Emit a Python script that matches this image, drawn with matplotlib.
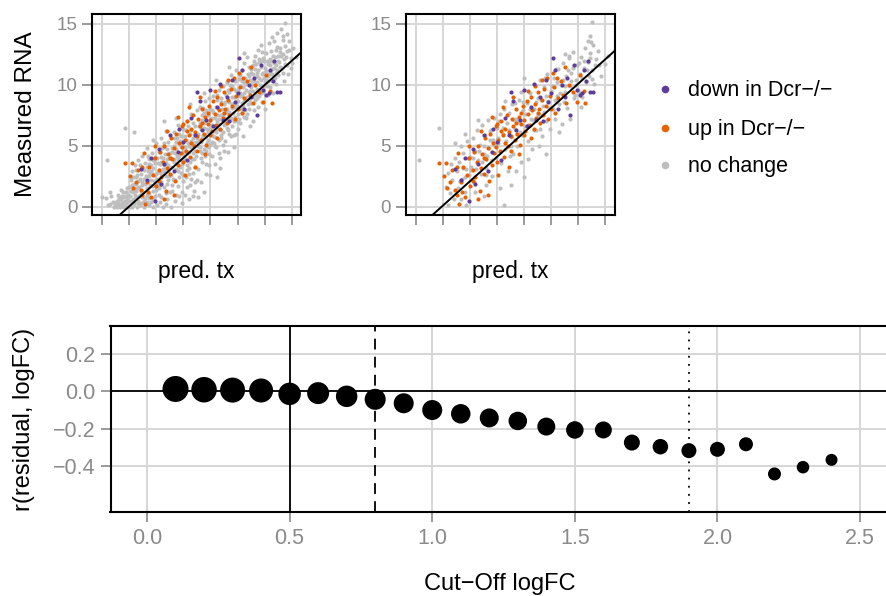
import numpy as np
import matplotlib
matplotlib.use('Agg')
import matplotlib.pyplot as plt
from matplotlib.lines import Line2D

plt.rcParams['font.family'] = ['Liberation Sans', 'DejaVu Sans']

# ---- top panels: measured RNA vs predicted transcription
# genes with no change, panel 1 (all genes)
gray_1 = [
    (0.0, 0.8), (0.6, 1.2), (0.3, 0.7), (0.4, 3.8), (0.6, 0.2), (0.8, 0.4), (0.9, 0.0), (0.7, 0.9), (1.0, 0.1), (0.5, 0.1),
    (1.1, 0.0), (1.2, 0.3), (1.3, 0.6), (1.4, 0.1), (1.5, 0.9), (1.6, 0.2), (1.7, 0.5), (1.8, 1.2), (1.9, 0.0), (1.2, 1.0),
    (1.5, 0.4), (1.7, 0.0), (1.9, 0.7), (1.1, 0.5), (1.4, 1.4), (1.6, 0.8), (1.8, 0.3), (2.0, 1.6), (1.7, 6.5), (1.3, 0.2),
    (2.1, 0.0), (2.1, 0.9), (2.2, 1.8), (2.2, 0.4), (2.3, 2.4), (2.3, 1.2), (2.4, 0.2), (2.4, 6.1), (2.5, 0.8), (2.5, 3.0),
    (2.6, 1.5), (2.6, 0.0), (2.7, 2.1), (2.7, 0.5), (2.8, 3.4), (2.8, 1.0), (2.9, 2.7), (2.9, 0.3), (3.0, 1.8), (3.0, 4.2),
    (2.2, 2.9), (2.4, 1.5), (2.6, 2.6), (2.8, 0.1), (2.5, 1.9), (2.9, 1.3), (2.3, 0.6), (2.7, 3.8),
    (3.1, 0.0), (3.1, 2.3), (3.2, 0.7), (3.2, 3.6), (3.3, 1.5), (3.3, 4.8), (3.4, 0.2), (3.4, 2.9), (3.5, 1.1), (3.5, 3.9),
    (3.6, 0.4), (3.6, 2.2), (3.7, 4.4), (3.7, 1.7), (3.8, 0.0), (3.8, 3.2), (3.9, 2.6), (3.9, 0.9), (4.0, 5.2), (4.0, 1.4),
    (3.2, 1.9), (3.4, 4.2), (3.5, 0.1), (3.6, 3.4), (3.7, 2.7), (3.8, 1.3), (3.9, 4.1), (3.3, 0.4), (3.5, 2.5), (3.8, 5.5),
    (4.1, 0.1), (4.1, 2.8), (4.2, 4.5), (4.2, 1.0), (4.3, 3.5), (4.3, 0.4), (4.4, 5.6), (4.4, 2.0), (4.5, 0.0), (4.5, 3.1),
    (4.6, 4.9), (4.6, 1.6), (4.7, 2.5), (4.7, 6.2), (4.8, 0.6), (4.8, 3.9), (4.9, 5.3), (4.9, 2.2), (5.0, 1.2), (5.0, 4.4),
    (4.2, 3.0), (4.4, 0.8), (4.5, 4.0), (4.6, 2.9), (4.7, 0.2), (4.8, 1.9), (4.9, 3.4), (4.3, 1.8), (4.6, 7.0), (4.1, 4.0),
    (4.8, 4.7), (4.4, 3.7),
    (5.1, 0.0), (5.1, 2.6), (5.2, 4.8), (5.2, 1.3), (5.3, 3.7), (5.3, 6.1), (5.4, 0.5), (5.4, 2.2), (5.5, 5.3), (5.5, 3.1),
    (5.6, 1.7), (5.6, 6.7), (5.7, 4.2), (5.7, 0.9), (5.8, 2.8), (5.8, 5.8), (5.9, 3.5), (5.9, 1.2), (6.0, 6.4), (6.0, 4.6),
    (5.2, 3.3), (5.4, 4.4), (5.5, 1.0), (5.6, 3.9), (5.7, 2.4), (5.8, 4.9), (5.9, 0.3), (6.0, 2.1), (5.3, 5.6), (5.5, 7.3),
    (5.1, 4.0), (5.7, 6.0), (5.9, 5.2), (5.4, 3.0),
    (6.1, 1.0), (6.1, 3.8), (6.2, 5.5), (6.2, 2.4), (6.3, 7.0), (6.3, 4.4), (6.4, 0.6), (6.4, 3.2), (6.5, 6.0), (6.5, 1.8),
    (6.6, 4.9), (6.6, 7.6), (6.7, 2.8), (6.7, 5.6), (6.8, 3.9), (6.8, 1.3), (6.9, 6.6), (6.9, 4.6), (7.0, 2.2), (7.0, 7.9),
    (6.2, 6.3), (6.3, 3.0), (6.4, 5.0), (6.5, 3.7), (6.6, 2.3), (6.7, 6.9), (6.8, 5.2), (6.9, 3.3), (7.0, 5.6), (6.1, 4.9),
    (6.5, 8.4), (6.7, 0.9), (6.3, 1.6), (6.9, 2.0),
    (7.1, 3.1), (7.1, 6.0), (7.2, 4.6), (7.2, 8.2), (7.3, 2.0), (7.3, 5.3), (7.4, 7.1), (7.4, 3.7), (7.5, 6.5), (7.5, 1.2),
    (7.6, 4.2), (7.6, 8.7), (7.7, 5.8), (7.7, 2.7), (7.8, 7.5), (7.8, 4.9), (7.9, 3.4), (7.9, 6.2), (8.0, 8.0), (8.0, 5.1),
    (7.2, 6.9), (7.3, 4.0), (7.4, 5.6), (7.5, 4.7), (7.6, 7.0), (7.7, 3.5), (7.8, 6.1), (7.9, 8.9), (8.0, 2.6), (7.1, 0.8),
    (7.5, 9.3), (7.7, 7.9), (7.3, 6.4), (7.9, 4.3),
    (8.1, 4.2), (8.1, 7.3), (8.2, 5.8), (8.2, 9.1), (8.3, 3.5), (8.3, 6.6), (8.4, 8.2), (8.4, 4.9), (8.5, 7.0), (8.5, 2.4),
    (8.6, 5.5), (8.6, 9.6), (8.7, 6.3), (8.7, 4.0), (8.8, 8.6), (8.8, 7.5), (8.9, 5.1), (8.9, 9.9), (9.0, 6.7), (9.0, 4.6),
    (8.2, 7.8), (8.3, 5.0), (8.4, 6.1), (8.5, 8.8), (8.6, 7.2), (8.7, 3.2), (8.8, 5.9), (8.9, 7.0), (9.0, 8.4), (8.4, 10.4),
    (8.1, 5.3), (8.6, 4.4),
    (9.1, 5.4), (9.1, 8.6), (9.2, 7.1), (9.2, 10.2), (9.3, 4.5), (9.3, 6.3), (9.4, 9.4), (9.4, 7.8), (9.5, 5.8), (9.5, 10.8),
    (9.6, 8.1), (9.6, 6.6), (9.7, 9.0), (9.7, 4.9), (9.8, 7.4), (9.8, 10.3), (9.9, 8.7), (9.9, 6.0), (10.0, 9.6), (10.0, 7.6),
    (9.2, 8.0), (9.3, 9.6), (9.4, 6.0), (9.5, 7.3), (9.6, 9.9), (9.7, 7.0), (9.8, 8.5), (9.9, 11.2), (10.0, 6.4), (9.4, 11.5),
    (9.1, 6.8), (9.7, 5.9),
    (10.1, 8.2), (10.1, 10.5), (10.2, 6.9), (10.2, 9.3), (10.3, 11.2), (10.3, 7.7), (10.4, 9.8), (10.4, 5.8), (10.5, 8.7),
    (10.5, 11.8), (10.6, 7.3), (10.6, 10.1), (10.7, 9.0), (10.7, 12.3), (10.8, 8.0), (10.8, 10.7), (10.9, 6.6), (10.9, 9.5),
    (11.0, 11.3), (11.0, 8.5), (10.2, 10.8), (10.3, 9.1), (10.4, 8.3), (10.5, 10.2), (10.6, 8.9), (10.7, 7.6), (10.8, 11.5),
    (10.9, 10.4), (11.0, 9.8), (10.5, 12.6), (10.1, 7.2), (10.8, 9.4),
    (11.1, 9.0), (11.1, 11.6), (11.2, 7.9), (11.2, 10.3), (11.3, 12.4), (11.3, 8.8), (11.4, 11.0), (11.4, 9.7), (11.5, 12.9),
    (11.5, 8.2), (11.6, 10.6), (11.6, 11.9), (11.7, 9.3), (11.7, 13.3), (11.8, 10.9), (11.8, 8.6), (11.9, 12.2), (11.9, 9.9),
    (12.0, 11.4), (12.0, 10.2), (11.2, 12.0), (11.4, 10.2), (11.5, 11.2), (11.6, 9.1), (11.8, 12.7), (11.9, 11.0),
    (11.3, 10.0), (11.7, 10.4), (11.1, 7.0), (12.0, 8.0),
    (12.1, 10.4), (12.1, 12.6), (12.2, 9.2), (12.2, 11.7), (12.3, 13.4), (12.3, 10.9), (12.4, 12.1), (12.4, 9.8), (12.5, 11.3),
    (12.5, 13.9), (12.6, 10.6), (12.6, 12.4), (12.7, 11.8), (12.7, 13.6), (12.8, 10.1), (12.8, 12.9), (12.9, 11.2),
    (12.9, 14.3), (13.0, 12.0), (13.0, 10.8), (12.2, 10.3), (12.4, 11.1), (12.6, 9.3), (12.8, 11.6), (12.3, 12.0), (12.9, 13.1),
    (13.1, 11.5), (13.1, 13.0), (13.2, 12.4), (13.2, 14.6), (13.3, 11.0), (13.3, 13.7), (13.4, 12.1), (13.5, 15.1), (13.5, 11.7),
    (13.6, 12.8), (13.7, 10.9), (13.8, 13.6), (13.9, 12.2), (14.0, 11.8), (14.1, 13.0), (14.3, 12.3), (13.4, 10.3), (13.6, 14.2),
    # dense core of the cloud
    (1.05, 0.3), (1.25, 0.8), (1.35, 0.0), (1.45, 0.6), (1.55, 1.2), (1.65, 0.1), (1.75, 0.9), (1.85, 0.5), (1.95, 1.0),
    (1.15, 0.2), (1.55, 0.0), (1.85, 1.5),
    (2.05, 0.5), (2.15, 1.3), (2.25, 0.0), (2.35, 1.9), (2.45, 1.0), (2.55, 2.4), (2.65, 0.3), (2.75, 1.6), (2.85, 2.3),
    (2.95, 0.8), (2.15, 2.2), (2.35, 0.3), (2.55, 1.3), (2.75, 0.9), (2.95, 2.0), (2.45, 3.4),
    (3.05, 1.2), (3.15, 3.0), (3.25, 2.5), (3.35, 1.0), (3.45, 3.5), (3.55, 1.8), (3.65, 2.9), (3.75, 0.6), (3.85, 2.1),
    (3.95, 3.6), (3.15, 0.5), (3.35, 3.3), (3.55, 2.7), (3.75, 3.8), (3.95, 1.7), (3.45, 0.7),
    (4.05, 2.3), (4.15, 3.6), (4.25, 1.5), (4.35, 4.1), (4.45, 2.7), (4.55, 3.4), (4.65, 4.3), (4.75, 1.1), (4.85, 2.9),
    (4.95, 4.0), (4.15, 1.9), (4.35, 2.8), (4.55, 5.2), (4.75, 3.6), (4.95, 2.5), (4.45, 4.8),
    (5.05, 3.2), (5.15, 4.5), (5.25, 2.3), (5.35, 5.0), (5.45, 3.6), (5.55, 4.2), (5.65, 2.9), (5.75, 5.4), (5.85, 3.8),
    (5.95, 4.4), (5.15, 1.8), (5.35, 3.9), (5.55, 5.6), (5.75, 3.3), (5.95, 2.6), (5.45, 4.7),
    (6.05, 4.1), (6.15, 5.8), (6.25, 3.4), (6.35, 5.2), (6.45, 4.5), (6.55, 6.3), (6.65, 3.9), (6.75, 5.0), (6.85, 6.0),
    (6.95, 4.2), (6.15, 4.6), (6.35, 6.6), (6.55, 5.4), (6.75, 4.4), (6.95, 5.3), (6.45, 2.7),
    (7.05, 5.0), (7.15, 6.6), (7.25, 4.9), (7.35, 7.5), (7.45, 5.9), (7.55, 6.9), (7.65, 4.6), (7.75, 6.4), (7.85, 5.5),
    (7.95, 7.1), (7.15, 5.4), (7.35, 4.4), (7.55, 7.7), (7.75, 5.2), (7.95, 6.5), (7.45, 8.1),
    (8.05, 6.0), (8.15, 7.9), (8.25, 5.2), (8.35, 7.3), (8.45, 6.4), (8.55, 8.1), (8.65, 6.8), (8.75, 5.6), (8.85, 8.0),
    (8.95, 7.6), (8.15, 6.7), (8.35, 5.7), (8.55, 7.5), (8.75, 8.9), (8.95, 6.1), (8.45, 9.2),
    (9.05, 7.3), (9.15, 9.2), (9.25, 6.5), (9.35, 8.6), (9.45, 7.1), (9.55, 9.0), (9.65, 7.7), (9.75, 8.2), (9.85, 9.5),
    (9.95, 7.0), (9.15, 7.8), (9.35, 7.4), (9.55, 8.4), (9.75, 9.7), (9.95, 8.3), (9.45, 10.0),
    (10.05, 8.7), (10.15, 9.9), (10.25, 8.0), (10.35, 10.3), (10.45, 9.3), (10.55, 7.9), (10.65, 9.6), (10.75, 10.9),
    (10.85, 8.8), (10.95, 10.1), (10.15, 9.1), (10.35, 8.5), (10.55, 10.6), (10.75, 8.4), (10.95, 11.0), (10.45, 7.4),
    (11.05, 10.4), (11.15, 9.5), (11.25, 11.3), (11.35, 9.2), (11.45, 10.7), (11.55, 12.1), (11.65, 10.0), (11.75, 11.5),
    (11.85, 9.4), (11.95, 12.0), (11.15, 10.9), (11.35, 11.7), (11.55, 9.6), (11.75, 12.0), (11.95, 10.6), (11.45, 8.9),
    (12.05, 11.1), (12.15, 12.0), (12.25, 10.7), (12.35, 11.6), (12.45, 12.8), (12.55, 10.9), (12.65, 11.4), (12.75, 12.3),
    (12.85, 11.0), (12.95, 12.4), (12.15, 9.9), (12.45, 10.4), (12.75, 10.6), (12.55, 12.0),
    (13.05, 11.9), (13.15, 12.7), (13.25, 11.4), (13.35, 12.5), (13.45, 13.2), (13.55, 12.3), (13.65, 11.6), (13.75, 12.9),
    (13.9, 11.4), (13.3, 14.0),
]

# genes with no change, panel 2 (subset)
gray_2 = [
    (0.2, 3.8), (1.7, 6.5), (2.4, 0.1), (3.7, 0.1), (6.5, 0.1), (13.0, 15.2), (12.7, 13.6), (12.9, 14.0),
    (2.2, 1.6), (2.4, 2.8), (2.5, 1.1), (2.6, 3.5), (2.7, 2.2), (2.8, 0.6), (2.9, 4.0), (3.0, 2.9), (3.1, 1.5), (3.2, 3.7),
    (3.3, 5.0), (3.4, 2.3), (3.5, 4.4), (3.6, 1.2), (3.7, 3.1), (3.8, 5.4), (3.9, 2.6), (4.0, 4.1), (3.3, 0.6), (2.9, 5.2),
    (3.6, 6.0),
    (4.1, 3.3), (4.2, 5.6), (4.3, 2.0), (4.4, 4.6), (4.5, 6.3), (4.6, 3.8), (4.7, 5.1), (4.8, 2.7), (4.9, 6.7), (5.0, 4.3),
    (5.1, 5.9), (5.2, 3.2), (5.3, 7.1), (5.4, 4.8), (5.5, 6.2), (5.6, 2.5), (5.7, 5.5), (5.8, 7.3), (5.9, 4.0), (6.0, 6.5),
    (4.4, 1.2), (5.2, 1.8), (4.6, 7.1), (5.0, 0.9), (5.6, 4.5),
    (6.1, 5.2), (6.2, 7.6), (6.3, 3.6), (6.4, 6.0), (6.5, 8.0), (6.6, 4.7), (6.7, 6.9), (6.8, 2.9), (6.9, 7.7), (7.0, 5.7),
    (7.1, 8.4), (7.2, 4.3), (7.3, 6.4), (7.4, 7.2), (7.5, 5.0), (7.6, 8.8), (7.7, 6.1), (7.8, 3.7), (7.9, 7.9), (8.0, 2.4),
    (6.2, 1.5), (7.0, 1.8), (7.4, 2.9), (6.6, 8.7), (7.8, 9.4),
    (8.1, 6.6), (8.2, 8.5), (8.3, 5.4), (8.4, 9.3), (8.5, 7.2), (8.6, 4.7), (8.7, 8.0), (8.8, 10.0), (8.9, 6.3), (9.0, 8.9),
    (9.1, 7.6), (9.2, 10.4), (9.3, 5.8), (9.4, 8.3), (9.5, 9.8), (9.6, 7.0), (9.7, 10.9), (9.8, 8.7), (9.9, 6.4), (10.0, 9.5),
    (8.3, 3.9), (9.1, 5.0), (9.6, 4.3), (8.0, 10.6),
    (10.1, 8.0), (10.2, 10.6), (10.3, 7.2), (10.4, 9.1), (10.5, 11.3), (10.6, 8.4), (10.7, 10.0), (10.8, 6.8), (10.9, 11.8),
    (11.0, 9.4), (11.1, 10.7), (11.2, 8.1), (11.3, 12.2), (11.4, 9.9), (11.5, 11.0), (11.6, 12.7), (11.7, 8.9), (11.8, 10.4),
    (11.9, 11.6), (12.0, 9.6), (10.6, 6.1), (11.4, 7.2), (11.0, 12.5),
    (12.1, 10.9), (12.2, 12.3), (12.3, 9.0), (12.4, 11.4), (12.5, 13.0), (12.6, 10.2), (12.7, 11.9), (12.8, 10.7),
    (12.9, 12.6), (13.0, 11.2), (13.2, 10.1), (13.3, 12.1), (13.5, 11.6), (13.7, 10.7), (14.0, 11.7), (14.2, 12.4),
    (12.2, 8.2), (13.1, 13.3),
    (3.25, 2.1), (3.45, 3.2), (3.65, 2.4), (3.85, 4.0), (4.05, 3.0), (4.25, 4.0), (4.45, 3.1), (4.65, 4.6), (4.85, 3.7),
    (5.05, 5.0), (5.25, 4.2), (5.45, 5.5), (5.65, 3.8), (5.85, 5.0), (6.05, 5.6), (6.25, 4.5), (6.45, 6.5), (6.65, 5.4),
    (6.85, 6.3), (7.05, 5.0), (7.25, 7.1), (7.45, 6.0), (7.65, 7.0), (7.85, 5.9), (8.05, 7.6), (8.25, 6.7), (8.45, 8.0),
    (8.65, 7.1), (8.85, 8.6), (9.05, 7.5), (9.25, 8.8), (9.45, 7.8), (9.65, 9.1), (9.85, 8.1), (10.05, 9.9), (10.25, 8.8),
    (10.45, 10.2), (10.65, 9.3), (10.85, 10.4), (11.05, 9.9), (11.25, 11.2), (11.45, 10.3), (11.65, 11.4), (11.85, 10.0),
    (12.05, 11.8), (12.25, 10.6), (12.45, 12.0), (12.65, 11.2), (12.85, 12.2), (13.05, 10.5), (13.25, 11.6), (13.45, 12.8),
    (4.15, 2.2), (5.55, 6.3), (6.95, 4.2), (7.35, 8.5), (8.75, 6.3), (9.55, 10.6), (10.95, 8.6), (11.35, 12.4), (12.15, 9.3),
    (5.15, 2.6), (6.15, 7.0), (7.95, 8.6), (9.15, 6.4), (10.35, 11.3), (11.75, 9.2), (12.95, 13.5),
]

# up in Dcr-/- (same genes in both panels)
up_genes = [
    (1.7, 3.6), (2.2, 3.6), (2.1, 2.5), (3.2, 0.2), (3.6, 0.8), (2.9, 1.4), (3.3, 2.0), (3.5, 3.3), (3.8, 2.6), (3.9, 4.0),
    (4.0, 1.7), (4.2, 3.0), (4.3, 4.5), (4.4, 2.4), (4.5, 3.7), (4.6, 5.0), (4.7, 1.3), (4.8, 3.2), (4.9, 4.3), (5.0, 2.7),
    (5.1, 5.6), (5.2, 3.9), (5.3, 4.8), (5.4, 2.1), (5.5, 6.0), (5.6, 3.4), (5.7, 5.2), (5.8, 4.4), (5.9, 6.6), (6.0, 3.7),
    (6.1, 5.5), (6.2, 4.6), (6.3, 7.0), (6.4, 5.9), (6.5, 4.1), (6.6, 6.4), (6.7, 7.5), (6.8, 5.0), (6.9, 6.1), (7.0, 4.6),
    (7.1, 7.2), (7.2, 6.6), (7.3, 5.5), (7.4, 8.0), (7.5, 6.0), (7.6, 7.4), (7.7, 5.1), (7.8, 6.8), (7.9, 8.3), (8.0, 7.1),
    (8.1, 6.2), (8.2, 8.7), (8.3, 7.6), (8.4, 6.7), (8.5, 9.0), (8.6, 7.9), (8.7, 6.4), (8.8, 8.4), (8.9, 7.3), (9.0, 9.4),
    (9.1, 8.0), (9.2, 6.9), (9.3, 8.8), (9.4, 7.5), (9.5, 9.7), (9.6, 8.3), (9.8, 7.2), (9.9, 9.1), (10.0, 8.0), (10.2, 9.8),
    (10.3, 7.7), (10.5, 8.9), (10.7, 10.3), (10.9, 9.2), (11.1, 8.5), (11.3, 10.0), (11.6, 9.4), (11.9, 8.6), (12.1, 10.8),
    (12.4, 9.5), (12.5, 8.5), (11.0, 11.5), (10.1, 11.0), (9.3, 10.4), (8.5, 5.6), (7.6, 4.3), (6.9, 3.3), (6.1, 2.6),
    (5.3, 1.0), (4.6, 0.6), (7.2, 9.0), (6.4, 8.2), (5.6, 7.4), (4.8, 6.2), (3.9, 5.0), (3.0, 3.3), (6.0, 6.8), (6.6, 5.2),
    (7.0, 5.8), (7.8, 7.7), (8.0, 5.9), (8.8, 9.9), (9.7, 10.6), (5.9, 4.9), (5.0, 4.0), (4.2, 2.1), (3.4, 1.2), (8.3, 9.5),
    (9.0, 7.7), (10.4, 10.6), (6.3, 6.2), (7.4, 6.9), (2.5, 2.0), (2.7, 3.0), (3.0, 1.0), (3.1, 4.4), (2.3, 1.5),
]

# down in Dcr-/- (same genes in both panels)
down_genes = [
    (2.9, 3.1), (3.3, 2.2), (3.6, 4.0), (3.9, 0.5), (4.2, 4.7), (4.6, 3.5), (5.0, 5.9), (5.3, 2.9), (5.7, 6.4), (6.0, 5.3),
    (6.3, 3.8), (6.6, 7.3), (6.9, 5.9), (7.2, 8.7), (7.4, 6.3), (7.7, 7.1), (8.0, 9.6), (8.2, 6.6), (8.5, 8.2), (8.7, 10.1),
    (8.9, 7.1), (9.2, 9.0), (9.4, 7.0), (9.6, 10.4), (9.8, 8.6), (10.0, 9.3), (10.3, 11.2), (10.5, 8.0), (10.8, 10.0),
    (11.0, 9.0), (11.2, 10.6), (11.4, 7.5), (11.7, 11.6), (11.9, 9.6), (12.1, 9.2), (12.3, 9.3), (12.4, 11.2), (12.6, 10.3),
    (12.7, 12.0), (12.9, 9.4), (13.1, 9.4), (10.1, 12.2), (7.0, 9.4), (5.6, 4.5), (4.4, 1.9),
]

fit_intercept = [-2.0, -1.9]
fit_slope = [1.0, 1.0]
top_xticks = [0, 2, 4, 6, 8, 10, 12, 14]
top_yticks = [0, 5, 10, 15]
legend_labels = ['down in Dcr\u2212/\u2212', 'up in Dcr\u2212/\u2212', 'no change']

# ---- bottom panel: correlation of residual with logFC per cut-off
cutoff = [0.1, 0.2, 0.3, 0.4, 0.5, 0.6, 0.7, 0.8, 0.9, 1.0, 1.1, 1.2,
          1.3, 1.4, 1.5, 1.6, 1.7, 1.8, 1.9, 2.0, 2.1, 2.2, 2.3, 2.4]
r_resid = [0.012, 0.008, 0.006, 0.004, -0.014, -0.01, -0.027, -0.043, -0.064, -0.100, -0.120, -0.142,
           -0.158, -0.188, -0.206, -0.206, -0.273, -0.295, -0.316, -0.309, -0.282, -0.440, -0.404, -0.365]
# size variable (number of genes above the cut-off, as drawn diameter)
size_var = [26, 25.5, 25, 24, 22.5, 22, 21.5, 21, 20, 20, 19.5, 19,
            18.5, 18, 17.5, 17, 16, 15.5, 15, 15, 14, 13, 12.5, 12]
cut_lines = [0.5, 0.8, 1.9]
bot_xticks = [0.0, 0.5, 1.0, 1.5, 2.0, 2.5]
bot_xlabels = ['0.0', '0.5', '1.0', '1.5', '2.0', '2.5']
bot_yticks = [0.2, 0.0, -0.2, -0.4]
bot_ylabels = ['0.2', '0.0', '\u22120.2', '\u22120.4']

col_down = '#5e3c99'
col_up = '#e66101'
col_none = '#bebebe'
grid_col = '#d6d6d6'
tick_col = '#7f7f7f'
lab_col = '#8a8a8a'

W, H = 886, 596
fig = plt.figure(figsize=(W / 100, H / 100), dpi=100)


def box(l, t, r, b):
    return [l / W, 1 - b / H, (r - l) / W, (b - t) / H]


ax1 = fig.add_axes(box(92, 14, 301, 215))
ax2 = fig.add_axes(box(405.7, 14, 615, 215))
ax3 = fig.add_axes(box(110.5, 326, 886, 512.3))

tops = [(ax1, gray_1, (-0.71, 14.66)), (ax2, gray_2, (-0.76, 14.72))]
for i, (ax, gray, xl) in enumerate(tops):
    g = np.array(gray)
    up = np.array(up_genes)
    dn = np.array(down_genes)
    ax.scatter(g[:, 0], g[:, 1], s=9, c=col_none, linewidths=0, zorder=2)
    ax.scatter(up[:, 0], up[:, 1], s=9, c=col_up, linewidths=0, zorder=3)
    ax.scatter(dn[:, 0], dn[:, 1], s=9, c=col_down, linewidths=0, zorder=3)
    ax.axline((0, fit_intercept[i]), slope=fit_slope[i], color='black', lw=1.4, zorder=4)
    ax.set_xlim(*xl)
    ax.set_ylim(-0.68, 15.82)
    ax.set_xticks(top_xticks)
    ax.set_xticklabels([])
    ax.set_yticks(top_yticks)
    ax.set_yticklabels([str(v) for v in top_yticks])
    ax.grid(True, color=grid_col, lw=1.4)
    ax.set_axisbelow(True)
    ax.tick_params(length=7.5, width=1.1, color=tick_col, labelcolor=lab_col, labelsize=13.5, pad=3)
    for sp in ax.spines.values():
        sp.set_linewidth(1.5)
        sp.set_color('black')
    fig.text(((92, 405.7)[i] + (301, 615)[i]) / 2 / W, 1 - 278.3 / H, 'pred. tx',
             fontsize=16.5, ha='center', va='baseline')

fig.text(31.7 / W, 1 - 114.5 / H, 'Measured RNA', fontsize=17.5, rotation=90,
         rotation_mode='anchor', ha='center', va='baseline')

# legend
leg_y = [89.3, 127.7, 165.0]
leg_cols = [col_down, col_up, col_none]
for lab, c, y in zip(legend_labels, leg_cols, leg_y):
    fig.add_artist(Line2D([665 / W], [1 - y / H], marker='o', ms=5.5, color=c, mec='none', ls='none'))
    fig.text(688 / W, 1 - (y + 1.5) / H, lab, fontsize=15.5, ha='left', va='center')

# bottom panel
ax3.scatter(cutoff, r_resid, s=(np.array(size_var) * 0.72) ** 2, c='black', linewidths=0, zorder=3)
ax3.axhline(0, color='black', lw=1.3, zorder=2)
ax3.axvline(cut_lines[0], color='black', lw=1.3, zorder=2)
ax3.axvline(cut_lines[1], color='black', lw=1.3, ls=(0, (6, 4)), zorder=2)
ax3.axvline(cut_lines[2], color='black', lw=1.3, ls=(0, (1, 3.5)), zorder=2)
ax3.set_xlim(-0.128, 2.591)
ax3.set_ylim(-0.644, 0.347)
ax3.set_xticks(bot_xticks)
ax3.set_xticklabels(bot_xlabels)
ax3.set_yticks(bot_yticks)
ax3.set_yticklabels(bot_ylabels)
ax3.grid(True, color=grid_col, lw=1.4)
ax3.set_axisbelow(True)
ax3.tick_params(length=7, width=1.1, color=tick_col, labelcolor=lab_col, labelsize=15.5, pad=4)
for sp in ax3.spines.values():
    sp.set_linewidth(1.5)
    sp.set_color('black')
ax3.spines['right'].set_visible(False)

fig.text(500 / W, 1 - 590 / H, 'Cut\u2212Off logFC', fontsize=17, ha='center', va='baseline')
fig.text(30 / W, 1 - 419 / H, 'r(residual, logFC)', fontsize=17, rotation=90,
         rotation_mode='anchor', ha='center', va='baseline')

fig.savefig('out.png', dpi=100)
